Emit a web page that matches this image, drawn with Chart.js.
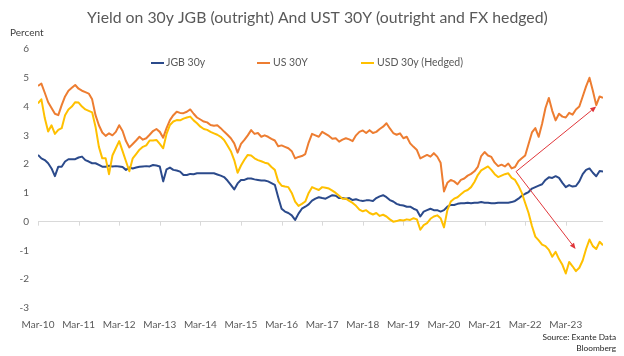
<!DOCTYPE html>
<html>
<head>
<meta charset="utf-8">
<script src="https://cdn.jsdelivr.net/npm/chart.js@4.4.1/dist/chart.umd.min.js"></script>
<style>
html,body{margin:0;padding:0;background:#fff;}
canvas{display:block;}
</style>
</head>
<body>
<canvas id="c" width="624" height="356"></canvas>
<script>
// ---- DATA (monthly, Mar-10 .. Feb-24; each row = Mar..Feb) ----
const tickLabels = ['Mar-10','Mar-11','Mar-12','Mar-13','Mar-14','Mar-15','Mar-16','Mar-17','Mar-18','Mar-19','Mar-20','Mar-21','Mar-22','Mar-23'];

const jgb30y = [
 2.32, 2.20, 2.14, 2.03, 1.85, 1.58, 1.91, 1.91, 2.09, 2.17, 2.17, 2.17,
 2.23, 2.26, 2.14, 2.09, 2.03, 2.03, 1.97, 1.91, 1.91, 1.94, 1.92, 1.93,
 1.92, 1.90, 1.80, 1.88, 1.85, 1.88, 1.91, 1.92, 1.93, 1.92, 1.97, 1.95,
 1.92, 1.40, 1.82, 1.88, 1.80, 1.78, 1.74, 1.62, 1.62, 1.66, 1.65, 1.68,
 1.68, 1.68, 1.68, 1.68, 1.68, 1.64, 1.60, 1.55, 1.43, 1.28, 1.12, 1.33,
 1.45, 1.45, 1.50, 1.50, 1.47, 1.45, 1.43, 1.43, 1.40, 1.34, 1.28, 0.85,
 0.45, 0.35, 0.30, 0.22, 0.06, 0.28, 0.45, 0.52, 0.60, 0.73, 0.80, 0.85,
 0.82, 0.80, 0.86, 0.92, 0.90, 0.82, 0.82, 0.80, 0.82, 0.75, 0.78, 0.74,
 0.72, 0.74, 0.74, 0.72, 0.82, 0.88, 0.92, 0.85, 0.75, 0.70, 0.62, 0.58,
 0.56, 0.52, 0.52, 0.45, 0.40, 0.18, 0.35, 0.40, 0.45, 0.40, 0.40, 0.35,
 0.40, 0.52, 0.58, 0.58, 0.62, 0.64, 0.64, 0.66, 0.64, 0.66, 0.66, 0.68,
 0.66, 0.66, 0.64, 0.64, 0.66, 0.66, 0.66, 0.66, 0.68, 0.72, 0.80, 0.90,
 0.97, 1.03, 1.15, 1.20, 1.25, 1.30, 1.45, 1.54, 1.52, 1.58, 1.52, 1.35,
 1.20, 1.27, 1.22, 1.24, 1.40, 1.65, 1.80, 1.85, 1.70, 1.58, 1.76, 1.74
];

const us30y = [
 4.72, 4.80, 4.48, 4.15, 3.95, 3.75, 3.70, 4.05, 4.35, 4.55, 4.65, 4.75,
 4.62, 4.55, 4.50, 4.45, 4.25, 3.70, 3.35, 3.10, 2.98, 3.07, 3.00, 3.12,
 3.35, 3.15, 2.80, 2.58, 2.70, 2.82, 2.95, 2.85, 2.90, 3.02, 3.15, 3.22,
 3.12, 2.92, 3.25, 3.53, 3.70, 3.82, 3.78, 3.77, 3.82, 3.90, 3.75, 3.62,
 3.55, 3.48, 3.45, 3.36, 3.33, 3.35, 3.25, 3.13, 3.02, 2.90, 2.72, 2.40,
 2.70, 2.84, 3.00, 3.18, 3.05, 3.08, 2.95, 3.00, 2.95, 2.88, 2.82, 2.62,
 2.65, 2.60, 2.55, 2.45, 2.20, 2.25, 2.28, 2.35, 2.75, 3.05, 3.00, 2.95,
 3.12, 3.05, 2.98, 2.88, 2.90, 2.78, 2.85, 2.90, 2.86, 2.80, 3.00, 3.12,
 3.17, 3.08, 3.18, 3.08, 3.12, 3.22, 3.30, 3.42, 3.24, 3.08, 3.02, 3.07,
 2.90, 2.95, 2.72, 2.60, 2.49, 2.20, 2.26, 2.32, 2.26, 2.38, 2.26, 2.05,
 1.05, 1.35, 1.45, 1.40, 1.30, 1.45, 1.50, 1.60, 1.66, 1.75, 1.90, 2.28,
 2.42, 2.30, 2.25, 2.05, 1.93, 1.98, 1.92, 2.02, 1.85, 1.90, 2.10, 2.20,
 2.30, 2.70, 3.10, 3.25, 2.95, 3.40, 3.95, 4.30, 3.85, 3.52, 3.75, 3.65,
 3.62, 3.78, 3.72, 3.90, 4.00, 4.35, 4.70, 5.00, 4.55, 4.05, 4.35, 4.30
];

const usdHedged = [
 4.11, 4.25, 3.60, 3.13, 3.35, 3.05, 3.19, 3.25, 3.70, 3.90, 4.00, 4.15,
 4.14, 4.00, 3.90, 3.85, 3.80, 3.30, 2.60, 2.20, 2.20, 1.65, 2.30, 2.55,
 2.80, 2.45, 2.10, 1.75, 2.20, 2.35, 2.50, 2.60, 2.65, 2.82, 2.82, 2.84,
 2.70, 2.55, 3.05, 3.36, 3.48, 3.53, 3.52, 3.58, 3.62, 3.65, 3.52, 3.42,
 3.30, 3.22, 3.19, 3.12, 3.07, 3.02, 2.95, 2.84, 2.65, 2.45, 2.14, 1.70,
 1.95, 2.15, 2.32, 2.30, 2.20, 2.14, 2.10, 2.05, 2.02, 1.90, 1.80, 1.40,
 1.25, 1.22, 1.20, 1.00, 0.70, 0.55, 0.62, 0.70, 1.00, 1.20, 1.15, 1.10,
 1.20, 1.18, 1.15, 1.08, 1.00, 0.90, 0.80, 0.80, 0.72, 0.65, 0.55, 0.42,
 0.36, 0.40, 0.30, 0.25, 0.30, 0.20, 0.24, 0.18, 0.08, 0.00, 0.02, 0.06,
 0.04, 0.08, 0.06, 0.12, 0.08, -0.28, -0.12, -0.05, 0.10, 0.18, 0.22, 0.12,
 -0.20, 0.40, 0.70, 0.80, 0.85, 0.95, 1.05, 1.10, 1.20, 1.38, 1.62, 1.78,
 1.85, 1.92, 1.80, 1.65, 1.55, 1.60, 1.65, 1.68, 1.52, 1.45, 1.25, 1.00,
 0.65, 0.30, -0.15, -0.52, -0.65, -0.80, -0.85, -0.98, -1.22, -1.05, -1.30, -1.50,
 -1.80, -1.40, -1.55, -1.72, -1.60, -1.35, -0.95, -0.62, -0.85, -0.95, -0.70, -0.82
];

const seriesNames = ['JGB 30y', 'US 30Y', 'USD 30y (Hedged)'];
// annotation arrows, in data units: [monthIndex, percent]
const arrowFrom = [141.3, 1.74];
const arrowTargets = [[165.0, 4.00], [158.9, -0.95]];

const titleText = 'Yield on 30y JGB (outright) And UST 30Y (outright and FX hedged)';
const yTitle = 'Percent';
const sourceLines = ['Source: Exante Data', 'Bloomberg'];

// ---- STYLE ----
const FONT = 'Lato, "Open Sans", sans-serif';
const colors = ['#2B4A8B', '#ED7D31', '#FFC000'];
const GREY = '#595959';

const toXY = arr => arr.map((v, i) => ({x: i, y: v}));

function fitSize(ctx, text, target, family, weight) {
  ctx.font = (weight||'normal') + ' 20px ' + family;
  const w = ctx.measureText(text).width;
  return 20 * target / w;
}

const decor = {
  id: 'decor',
  beforeDatasetsDraw(chart) {
    const {ctx, scales: {x, y}} = chart;
    const y0 = y.getPixelForValue(0);
    ctx.save();
    ctx.strokeStyle = '#D9D9D9';
    ctx.lineWidth = 1;
    for (let m = 0; m <= x.max; m += 12) {
      const px = Math.round(x.getPixelForValue(m)) + 0.5;
      ctx.beginPath();
      ctx.moveTo(px, y0);
      ctx.lineTo(px, y0 + 4);
      ctx.stroke();
    }
    ctx.restore();
  },
  afterDatasetsDraw(chart) {
    const {ctx, scales: {x, y}} = chart;
    ctx.save();
    ctx.strokeStyle = '#E0363A';
    ctx.fillStyle = '#E0363A';
    ctx.lineWidth = 1;
    const fx = x.getPixelForValue(arrowFrom[0]), fy = y.getPixelForValue(arrowFrom[1]);
    arrowTargets.forEach(t => {
      const tx = x.getPixelForValue(t[0]), ty = y.getPixelForValue(t[1]);
      const ang = Math.atan2(ty - fy, tx - fx);
      const hl = 6, hw = 2.6;
      const bx = tx - hl * Math.cos(ang), by = ty - hl * Math.sin(ang);
      ctx.beginPath();
      ctx.moveTo(fx, fy);
      ctx.lineTo(bx, by);
      ctx.stroke();
      ctx.beginPath();
      ctx.moveTo(tx, ty);
      ctx.lineTo(bx + hw * Math.sin(ang), by - hw * Math.cos(ang));
      ctx.lineTo(bx - hw * Math.sin(ang), by + hw * Math.cos(ang));
      ctx.closePath();
      ctx.fill();
    });
    ctx.restore();
  },
  afterDraw(chart) {
    const ctx = chart.ctx;
    ctx.save();
    // title
    const ts = fitSize(ctx, titleText, 461, FONT);
    ctx.font = ts.toFixed(2) + 'px ' + FONT;
    ctx.fillStyle = GREY;
    ctx.textAlign = 'left';
    ctx.textBaseline = 'middle';
    ctx.fillText(titleText, 87, 18);
    // y title
    ctx.font = '10px ' + FONT;
    ctx.fillStyle = '#404040';
    ctx.fillText(yTitle, 10, 33);
    // legend
    const legendX = [[151, 166], [257, 273], [361, 377]];
    ctx.font = '10.5px ' + FONT;
    seriesNames.forEach((n, i) => {
      ctx.strokeStyle = colors[i];
      ctx.lineWidth = 2;
      ctx.beginPath();
      ctx.moveTo(legendX[i][0], 63);
      ctx.lineTo(legendX[i][0] + 13, 63);
      ctx.stroke();
      ctx.fillStyle = GREY;
      ctx.fillText(n, legendX[i][1], 63);
    });
    // source
    ctx.font = '8.3px ' + FONT;
    ctx.fillStyle = '#262626';
    ctx.textAlign = 'right';
    ctx.fillText(sourceLines[0], 616, 337);
    ctx.fillText(sourceLines[1], 616, 348);
    ctx.restore();
  }
};

new Chart(document.getElementById('c'), {
  type: 'line',
  data: {
    datasets: [
      {label: seriesNames[0], data: toXY(jgb30y), borderColor: colors[0], order: 3},
      {label: seriesNames[1], data: toXY(us30y), borderColor: colors[1], order: 2},
      {label: seriesNames[2], data: toXY(usdHedged), borderColor: colors[2], order: 1}
    ]
  },
  options: {
    responsive: false,
    animation: false,
    devicePixelRatio: 1,
    layout: {padding: {top: 49, right: 21, left: 0, bottom: 0}},
    elements: {
      line: {borderWidth: 2, tension: 0, borderJoinStyle: 'round'},
      point: {radius: 0}
    },
    plugins: {legend: {display: false}, tooltip: {enabled: false}, title: {display: false}},
    scales: {
      x: {
        type: 'linear',
        min: 0,
        max: jgb30y.length - 1,
        grid: {display: false},
        border: {display: false},
        afterBuildTicks: s => { s.ticks = tickLabels.map((l, i) => ({value: i * 12})); },
        afterFit: s => { s.height = 48; },
        ticks: {
          autoSkip: false, maxRotation: 0, padding: 3,
          color: GREY, font: {family: FONT, size: 10},
          callback: (v, i) => tickLabels[i]
        }
      },
      y: {
        min: -3, max: 6,
        afterFit: s => { s.width = 38; },
        grid: {
          drawTicks: false,
          color: c => (c.tick && c.tick.value === 0) ? '#D9D9D9' : 'rgba(0,0,0,0)'
        },
        border: {display: false},
        ticks: {stepSize: 1, padding: 9, color: GREY, font: {family: FONT, size: 10}}
      }
    }
  },
  plugins: [decor]
});
</script>
</body>
</html>
